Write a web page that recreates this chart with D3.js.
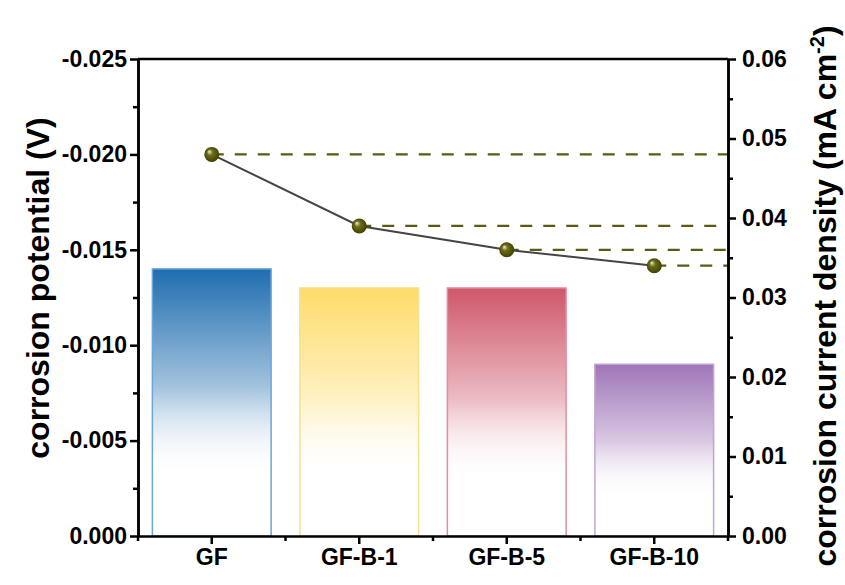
<!DOCTYPE html>
<html>
<head>
<meta charset="utf-8">
<script src="https://cdn.jsdelivr.net/npm/d3@7"></script>
<style>
  body { margin: 0; background: #fff; }
  text { font-family: "Liberation Sans", Arial, sans-serif; font-weight: bold; }
</style>
</head>
<body>
<div id="chart"></div>
<script>
// data
const categories = ["GF", "GF-B-1", "GF-B-5", "GF-B-10"];
const potential = [-0.014, -0.013, -0.013, -0.009];        // bars, left axis (V)
const currentDensity = [0.048, 0.039, 0.036, 0.034];      // points, right axis (mA cm-2)
const leftTicks = [-0.025, -0.020, -0.015, -0.010, -0.005, 0.000];
const rightTicks = [0, 0.01, 0.02, 0.03, 0.04, 0.05, 0.06];
const barColors = ["#1f6db0", "#fedc6a", "#cf576b", "#9f76b8"];
const barEdges = ["#6aa6d8", "#f7e08a", "#e28f9c", "#c3a3d6"];

const width = 845, height = 585;
const margin = {top: 59, right: 117, bottom: 49, left: 138};
const iw = width - margin.left - margin.right,
      ih = height - margin.top - margin.bottom;

const svg = d3.select("#chart").append("svg")
    .attr("width", width)
    .attr("height", height);

const defs = svg.append("defs");

// one vertical fade per bar
barColors.forEach((c, i) => {
    const g = defs.append("linearGradient")
        .attr("id", "bar" + i)
        .attr("x1", 0).attr("y1", 0).attr("x2", 0).attr("y2", 1);
    g.append("stop").attr("offset", "0%").attr("stop-color", c);
    g.append("stop").attr("offset", "45%").attr("stop-color", c).attr("stop-opacity", 0.4);
    g.append("stop").attr("offset", "78%").attr("stop-color", "#fff").attr("stop-opacity", 0);
});

// shiny sphere for the markers
const sph = defs.append("radialGradient")
    .attr("id", "sphere")
    .attr("cx", "50%").attr("cy", "50%").attr("r", "55%")
    .attr("fx", "32%").attr("fy", "30%");
sph.append("stop").attr("offset", "0%").attr("stop-color", "#f2f2dc");
sph.append("stop").attr("offset", "35%").attr("stop-color", "#6e6e18");
sph.append("stop").attr("offset", "100%").attr("stop-color", "#3c3c00");

const g = svg.append("g")
    .attr("transform", `translate(${margin.left},${margin.top})`);

const x = d3.scaleBand()
    .domain(categories)
    .range([0, iw])
    .paddingInner(0.195)
    .paddingOuter(0.0975);

const yL = d3.scaleLinear()
    .domain([0, -0.025])
    .range([ih, 0]);

const yR = d3.scaleLinear()
    .domain([0, 0.06])
    .range([ih, 0]);

// bars
g.selectAll("rect.bar")
    .data(potential)
    .join("rect")
    .attr("class", "bar")
    .attr("x", (d, i) => x(categories[i]))
    .attr("y", d => yL(d))
    .attr("width", x.bandwidth())
    .attr("height", d => ih - yL(d))
    .attr("fill", (d, i) => `url(#bar${i})`)
    .attr("stroke", (d, i) => barEdges[i])
    .attr("stroke-width", 1.5);

// dashed guide lines to the right axis
g.selectAll("line.guide")
    .data(currentDensity)
    .join("line")
    .attr("class", "guide")
    .attr("x1", (d, i) => x(categories[i]) + x.bandwidth() / 2)
    .attr("x2", iw)
    .attr("y1", d => yR(d))
    .attr("y2", d => yR(d))
    .attr("stroke", "#5a5a14")
    .attr("stroke-width", 2.2)
    .attr("stroke-dasharray", "12,11");

// line + markers
const line = d3.line()
    .x((d, i) => x(categories[i]) + x.bandwidth() / 2)
    .y(d => yR(d));

g.append("path")
    .datum(currentDensity)
    .attr("d", line)
    .attr("fill", "none")
    .attr("stroke", "#444")
    .attr("stroke-width", 2);

g.selectAll("circle.pt")
    .data(currentDensity)
    .join("circle")
    .attr("class", "pt")
    .attr("cx", (d, i) => x(categories[i]) + x.bandwidth() / 2)
    .attr("cy", d => yR(d))
    .attr("r", 7.5)
    .attr("fill", "url(#sphere)");

// frame (top edge)
g.append("line")
    .attr("x1", 0).attr("x2", iw).attr("y1", 0).attr("y2", 0)
    .attr("stroke", "#000").attr("stroke-width", 2.5);

function styleAxis(sel) {
    sel.select(".domain").attr("stroke", "#000").attr("stroke-width", 2.5);
    sel.selectAll(".tick line").attr("stroke", "#000").attr("stroke-width", 2.5);
    sel.selectAll(".tick text").attr("fill", "#000").style("font-size", "23px");
}

// minor ticks
function minors(ticks) {
    const out = [];
    for (let i = 0; i < ticks.length - 1; i++) out.push((ticks[i] + ticks[i + 1]) / 2);
    return out;
}

// plain hyphen instead of d3's unicode minus
const fmt3 = d => d3.format(".3f")(d).replace("\u2212", "-");

g.append("g")
    .call(d3.axisLeft(yL).tickValues(leftTicks).tickFormat(fmt3).tickSize(8).tickSizeOuter(0).tickPadding(3))
    .call(styleAxis);
g.append("g")
    .call(d3.axisLeft(yL).tickValues(minors(leftTicks)).tickFormat("").tickSize(5).tickSizeOuter(0))
    .call(styleAxis);

g.append("g")
    .attr("transform", `translate(${iw},0)`)
    .call(d3.axisRight(yR).tickValues(rightTicks).tickFormat(d3.format(".2f")).tickSize(8).tickSizeOuter(0).tickPadding(6))
    .call(styleAxis);
g.append("g")
    .attr("transform", `translate(${iw},0)`)
    .call(d3.axisRight(yR).tickValues(minors(rightTicks)).tickFormat("").tickSize(5).tickSizeOuter(0))
    .call(styleAxis);

g.append("g")
    .attr("transform", `translate(0,${ih})`)
    .call(d3.axisBottom(x).tickSize(8).tickSizeOuter(0).tickPadding(5))
    .call(styleAxis);
// minor x ticks on category borders
const xBorders = d3.range(categories.length + 1).map(i => i * x.step());
g.append("g")
    .selectAll("line")
    .data(xBorders)
    .join("line")
    .attr("x1", d => d).attr("x2", d => d)
    .attr("y1", ih).attr("y2", ih + 5)
    .attr("stroke", "#000").attr("stroke-width", 2.5);

// axis titles
svg.append("text")
    .attr("transform", `translate(49,288) rotate(-90)`)
    .attr("text-anchor", "middle")
    .style("font-size", "32px")
    .text("corrosion potential (V)");

const rt = svg.append("text")
    .attr("transform", `translate(836,296) rotate(-90)`)
    .attr("text-anchor", "middle")
    .style("font-size", "32px");
rt.append("tspan").text("corrosion current density (mA cm");
rt.append("tspan").attr("dy", -12).style("font-size", "20px").text("-2");
rt.append("tspan").attr("dy", 12).text(")");
</script>
</body>
</html>
